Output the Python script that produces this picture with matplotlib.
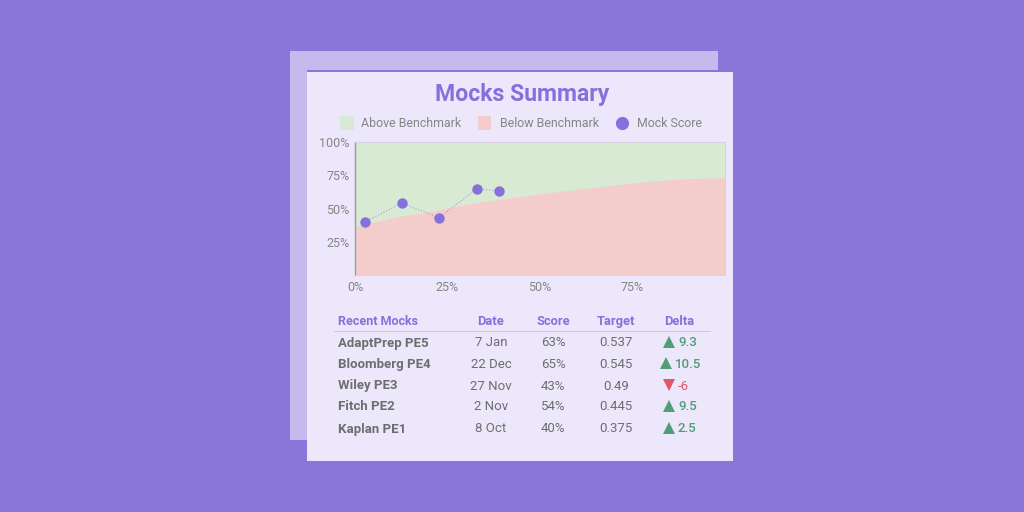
import matplotlib
matplotlib.use('Agg')
import matplotlib.pyplot as plt
from matplotlib.patches import Rectangle

plt.rcParams['font.family'] = ['Roboto', 'DejaVu Sans']

# curve and points
benchmark_x = [0, 3, 7, 13, 18, 23, 28, 33, 39, 45, 50, 56, 62, 68, 75, 81, 87, 93, 100]
benchmark_y = [36, 38.5, 41, 44.5, 46.5, 49, 52, 54.5, 57, 59, 61, 63, 65, 67, 69.3, 70.8, 72, 72.7, 73]
mock_x = [2.7, 12.7, 22.7, 33, 39]
mock_y = [40, 54, 43, 65, 63]

# table
headers = ['Recent Mocks', 'Date', 'Score', 'Target', 'Delta']
mocks = ['AdaptPrep PE5', 'Bloomberg PE4', 'Wiley PE3', 'Fitch PE2', 'Kaplan PE1']
dates = ['7 Jan', '22 Dec', '27 Nov', '2 Nov', '8 Oct']
scores = ['63%', '65%', '43%', '54%', '40%']
targets = ['0.537', '0.545', '0.49', '0.445', '0.375']
deltas = [9.3, 10.5, -6, 9.5, 2.5]

BG = '#8A76D9'
PURPLE = '#8471DB'
GREY = '#6E6E6E'
LIGHT_GREY = '#858585'
GREEN = '#4F9E78'
RED = '#E2566C'
ABOVE = '#D8EAD3'
BELOW = '#F4CCCC'

fig = plt.figure(figsize=(10.24, 5.12), dpi=100, facecolor=BG)

# overlay in pixel coordinates for the card and the table
bg = fig.add_axes([0, 0, 1, 1])
bg.set_xlim(0, 1024)
bg.set_ylim(512, 0)
bg.axis('off')
bg.add_patch(Rectangle((290, 51), 428, 389, color='#C5BAEE', lw=0))
bg.add_patch(Rectangle((307, 72), 426, 389, color='#ECE7FA', lw=0))
bg.add_patch(Rectangle((307, 70), 411, 2.2, color=BG, lw=0))

bg.text(522, 94, 'Mocks Summary', color=PURPLE, fontsize=16.6, fontweight='bold',
        ha='center', va='center')

# legend
bg.add_patch(Rectangle((340, 116), 14, 14, color=ABOVE, lw=0))
bg.text(361, 127, 'Above Benchmark', color=LIGHT_GREY, fontsize=8.9, va='baseline')
bg.add_patch(Rectangle((478, 116), 13, 14, color=BELOW, lw=0))
bg.text(500, 127, 'Below Benchmark', color=LIGHT_GREY, fontsize=8.9, va='baseline')
bg.plot([622], [123], marker='o', color=PURPLE, ms=9.5, mew=0, ls='')
bg.text(637, 127, 'Mock Score', color=LIGHT_GREY, fontsize=8.9, va='baseline')

# chart
ax = fig.add_axes([355 / 1024, 1 - 275 / 512, 370 / 1024, 133 / 512])
ax.set_facecolor(ABOVE)
ax.fill_between(benchmark_x, 0, benchmark_y, color=BELOW, lw=0)
ax.plot(mock_x, mock_y, color='#A99BE0', lw=0.8, ls=':', zorder=3)
ax.scatter(mock_x, mock_y, s=56, color=PURPLE, lw=0, zorder=4)
ax.set_xlim(0, 100)
ax.set_ylim(0, 100)
ax.set_xticks([0, 25, 50, 75])
ax.set_xticklabels(['0%', '25%', '50%', '75%'])
ax.set_yticks([25, 50, 75, 100])
ax.set_yticklabels(['25%', '50%', '75%', '100%'])
ax.tick_params(length=0, labelsize=9, labelcolor=LIGHT_GREY, pad=4)
for side in ['top', 'right', 'bottom']:
    ax.spines[side].set_color('#D5D2DE')
    ax.spines[side].set_linewidth(0.7)
ax.spines['left'].set_color('#9A9A9A')
ax.spines['left'].set_linewidth(1)

# table
col_x = [338, 491, 553, 616, 679]
bg.text(col_x[0], 325, headers[0], color=PURPLE, fontsize=9, fontweight='bold',
        ha='left', va='baseline')
for x, h in zip(col_x[1:], headers[1:]):
    bg.text(x, 325, h, color=PURPLE, fontsize=9.3, fontweight='bold', ha='center', va='baseline')
bg.plot([334, 710], [330.5, 330.5], color='#CFCBDC', lw=0.8)

row_y = [342, 363.5, 385, 406, 428]
for y, name, d, s, t, delta in zip(row_y, mocks, dates, scores, targets, deltas):
    base = y + 4.5
    bg.text(col_x[0], base, name, color=GREY, fontsize=9.5, fontweight='bold', ha='left', va='baseline')
    bg.text(col_x[1], base, d, color=GREY, fontsize=9.5, ha='center', va='baseline')
    bg.text(col_x[2], base, s, color=GREY, fontsize=9.5, ha='center', va='baseline')
    bg.text(col_x[3], base, t, color=GREY, fontsize=9.5, ha='center', va='baseline')
    up = delta > 0
    c = GREEN if up else RED
    label = f'{delta:g}'
    off = 6 if len(label) < 4 else 9
    bg.plot([col_x[4] - off - 4], [y - 0.5], marker='^' if up else 'v', color=c, ms=8.5, mew=0, ls='')
    bg.text(col_x[4] - off + 5, base, label, color=c, fontsize=9.5,
            fontweight='medium' if up else 'normal', ha='left', va='baseline')

fig.savefig('out.png', dpi=100, facecolor=BG)
